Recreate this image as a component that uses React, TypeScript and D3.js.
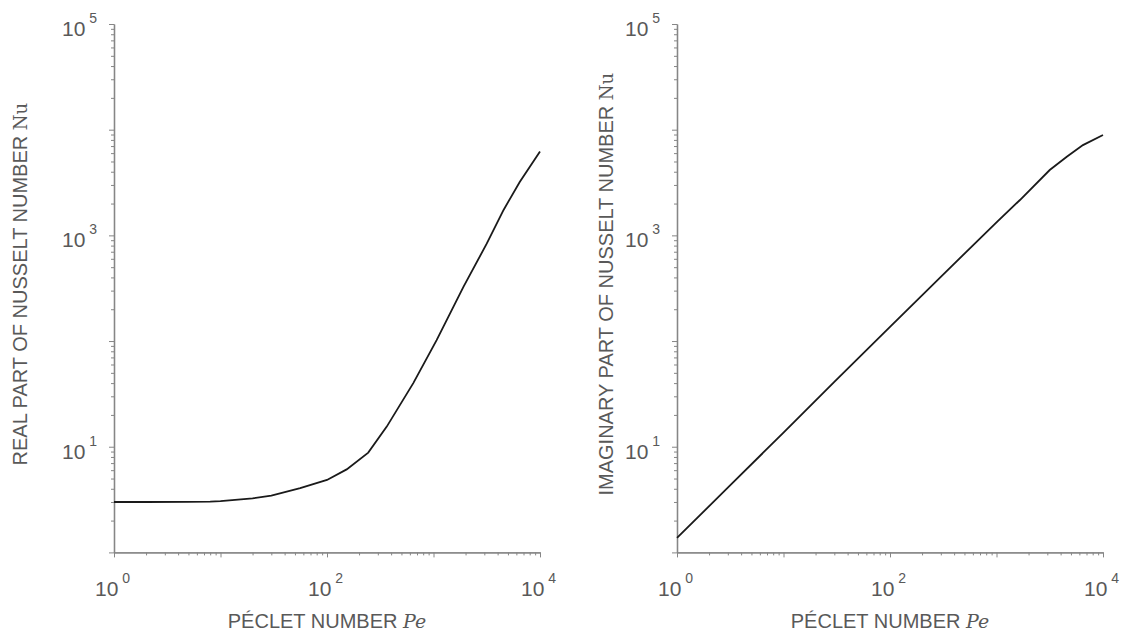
import React, { useEffect, useRef } from 'react';
import * as d3 from 'd3';

// Péclet number samples and Nusselt number
const realPe = [1, 2, 5, 8, 10, 20, 30, 56, 100, 153, 244, 364, 646, 1070, 1910, 3160, 4550, 6450, 10000];
const realNu = [3.0, 3.0, 3.01, 3.02, 3.05, 3.25, 3.45, 4.05, 4.85, 6.1, 8.8, 15.5, 40, 102, 325, 835, 1740, 3200, 6200];

const imagPe = [1, 3, 10, 30, 100, 300, 1000, 1660, 3160, 4570, 6480, 10000];
const imagNu = [1.37, 4.1, 13.6, 41, 136, 405, 1330, 2160, 4150, 5540, 7150, 8900];

const xTickExps = [0, 2, 4];
const yTickExps = [1, 3, 5];

const panels = [
  { left: 114, right: 540, pe: realPe, nu: realNu, yTitle: 'REAL PART OF NUSSELT NUMBER ', titleX: 27 },
  { left: 677, right: 1103, pe: imagPe, nu: imagNu, yTitle: 'IMAGINARY PART OF NUSSELT NUMBER ', titleX: 613 }
];

const W = 1121;
const H = 638;
const top = 24;
const bottom = 552.4;
const textColor = '#595959';
const axisColor = '#868686';

const App = () => {
  const svgRef = useRef<SVGSVGElement>(null);

  useEffect(() => {
    const svg = d3.select(svgRef.current);
    svg.selectAll('*').remove();

    const y = d3.scaleLog().domain([1, 1e5]).range([bottom, top]);
    const yMinor: number[] = [];
    for (let e = 0; e < 5; e++) for (let m = 2; m <= 9; m++) yMinor.push(m * 10 ** e);
    const yMajor = d3.range(0, 6).map(e => 10 ** e);
    const xMinor: number[] = [];
    for (let e = 0; e < 4; e++) for (let m = 2; m <= 9; m++) xMinor.push(m * 10 ** e);
    const xMajor = d3.range(0, 5).map(e => 10 ** e);

    panels.forEach(p => {
      const x = d3.scaleLog().domain([1, 1e4]).range([p.left, p.right]);
      const g = svg.append('g');

      const styleAxis = (sel: any) => {
        sel.select('.domain').attr('stroke', axisColor).attr('stroke-width', 1.3);
        sel.selectAll('.tick line').attr('stroke', axisColor).attr('stroke-width', 1);
        sel.selectAll('.tick text').remove();
      };

      // y axis
      g.append('g')
        .attr('transform', `translate(${p.left},0)`)
        .call(d3.axisLeft(y).tickValues(yMinor).tickSize(3).tickSizeOuter(0).tickFormat(() => ''))
        .call(styleAxis);
      g.append('g')
        .attr('transform', `translate(${p.left},0)`)
        .call(d3.axisLeft(y).tickValues(yMajor).tickSize(5).tickSizeOuter(0).tickFormat(() => ''))
        .call(styleAxis);

      // x axis
      g.append('g')
        .attr('transform', `translate(0,${bottom})`)
        .call(d3.axisBottom(x).tickValues(xMinor).tickSize(3).tickSizeOuter(0).tickFormat(() => ''))
        .call(styleAxis);
      g.append('g')
        .attr('transform', `translate(0,${bottom})`)
        .call(d3.axisBottom(x).tickValues(xMajor).tickSize(5).tickSizeOuter(0).tickFormat(() => ''))
        .call(styleAxis);

      // y tick labels
      yTickExps.forEach(e => {
        const t = g.append('text')
          .attr('x', p.left - 52)
          .attr('y', y(10 ** e) + 12)
          .attr('fill', textColor)
          .style('font-family', '"Liberation Sans", Arial, sans-serif')
          .style('font-size', '21px');
        t.append('tspan').text('10');
        t.append('tspan').attr('dx', 4).attr('dy', -13).style('font-size', '14px').text(String(e));
      });

      // x tick labels
      xTickExps.forEach(e => {
        const t = g.append('text')
          .attr('x', x(10 ** e) - 19)
          .attr('y', 596)
          .attr('fill', textColor)
          .style('font-family', '"Liberation Sans", Arial, sans-serif')
          .style('font-size', '21px');
        t.append('tspan').text('10');
        t.append('tspan').attr('dx', 4).attr('dy', -13).style('font-size', '14px').text(String(e));
      });

      // x title
      const xt = g.append('text')
        .attr('x', (p.left + p.right) / 2)
        .attr('y', 628)
        .attr('text-anchor', 'middle')
        .attr('fill', textColor)
        .style('font-family', '"Liberation Sans", Arial, sans-serif')
        .style('font-size', '20px');
      xt.append('tspan').text('PÉCLET NUMBER ');
      xt.append('tspan')
        .style('font-family', '"DejaVu Serif", serif')
        .style('font-style', 'italic')
        .style('font-size', '19px')
        .text('Pe');

      // y title
      const yt = g.append('text')
        .attr('transform', `translate(${p.titleX},${(top + bottom) / 2 - 4}) rotate(-90)`)
        .attr('text-anchor', 'middle')
        .attr('fill', textColor)
        .style('font-family', '"Liberation Sans", Arial, sans-serif')
        .style('font-size', '20px');
      yt.append('tspan').text(p.yTitle);
      yt.append('tspan')
        .style('font-family', '"DejaVu Serif", serif')
        .style('font-size', '18px')
        .text('Nu');

      // curve
      const pts = p.pe.map((v, i) => [v, p.nu[i]] as [number, number]);
      g.append('path')
        .datum(pts)
        .attr('fill', 'none')
        .attr('stroke', '#1a1a1a')
        .attr('stroke-width', 1.8)
        .attr('d', d3.line<[number, number]>().x(d => x(d[0])).y(d => y(d[1]))(pts) as string);
    });
  }, []);

  return (
    <svg ref={svgRef} width={W} height={H} style={{ position: 'absolute', left: 0, top: 0, background: '#fff' }} />
  );
};

export default App;
